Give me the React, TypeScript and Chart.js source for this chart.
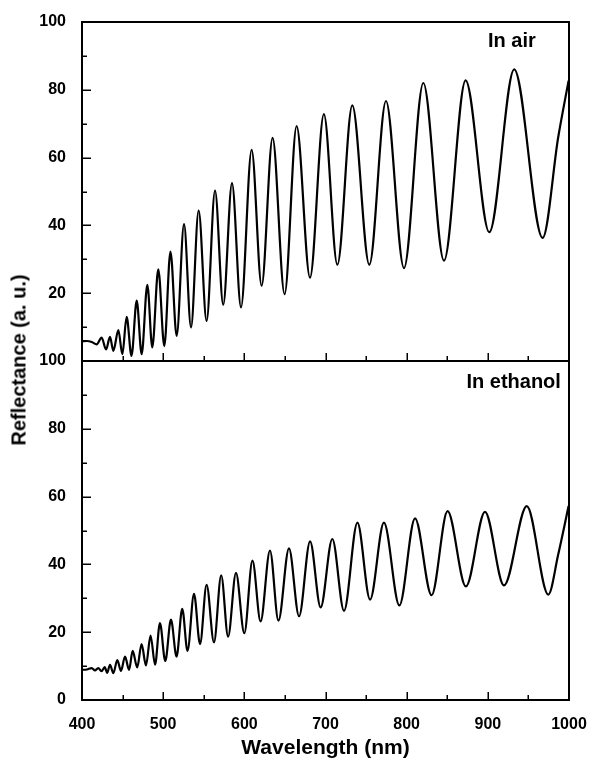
import React, { useEffect, useRef } from 'react';
import { Chart, registerables } from 'chart.js';

Chart.register(...registerables);

// ---- Data (wavelength in nm, reflectance in a.u.) ----
const airWavelength = [
  400, 406, 412, 418, 424.2, 429.6, 434.5, 438.6, 444.8, 449.7, 455, 461, 467.4, 473.5, 480.5, 486.6,
  494, 501.4, 509, 516.6, 525.7, 534.3, 543.7, 553.5, 563.9, 574, 584.8, 595.9, 609, 621.3, 634.8,
  649.6, 664.4, 680.9, 698, 714.6, 733, 754, 774.5, 796.7, 820.5, 846, 872.6, 901.8, 932.5, 967.5,
  986.7, 999.5,
];
const airReflectance = [
  5.8, 5.9, 5.6, 4.9, 6.9, 3.4, 7.1, 3.0, 9.1, 2.0, 13, 1.5, 17.8, 2.0, 22.5, 4.0,
  27, 4.4, 32.3, 7.4, 40.4, 9.9, 44.4, 11.8, 50.3, 16.6, 52.5, 15.8, 62.3, 22.2, 65.8,
  19.7, 69.3, 24.6, 72.8, 28.4, 75.4, 28.4, 76.7, 27.4, 82, 29.6, 82.8, 38, 86, 36.3,
  66, 82.7,
];

const ethanolWavelength = [
  400, 406, 412, 416, 420, 424, 428, 431, 434.5, 438.6, 443.5, 448, 453, 458, 462.4, 468,
  473.4, 478.8, 484.5, 490, 496, 502.6, 509.6, 516.5, 523.5, 530, 538, 545.4, 553.5, 562.6,
  571.5, 580, 589.7, 600, 610, 620, 631.6, 642, 655, 667.4, 681, 694, 708.4, 722.8, 739.3,
  754.9, 772, 791, 810.3, 830.7, 850.4, 873, 896.5, 919.9, 948, 974.5, 986.7, 999.5,
];
const ethanolReflectance = [
  8.9, 9.0, 9.4, 8.7, 9.4, 8.5, 9.7, 8.0, 10.4, 7.9, 11.8, 8.6, 12.8, 8.9, 14.5, 9.6,
  16.5, 10.2, 19, 10.4, 22.7, 11.5, 23.7, 12.8, 26.9, 14.5, 31.3, 16.5, 34, 17,
  36.8, 18.7, 37.5, 19.7, 41.1, 23.2, 44.1, 23.4, 44.7, 24.7, 46.8, 27.3, 47.5, 26.3, 52.3,
  29.6, 52.3, 27.9, 53.6, 30.9, 55.7, 33.5, 55.5, 33.8, 57.2, 31.1, 42.9, 57.2,
];

const xMajorTicks = [400, 500, 600, 700, 800, 900, 1000];
const xMinorTicks = [450, 550, 650, 750, 850, 950];
const yMajorTicks = [0, 20, 40, 60, 80, 100];
const yMinorTicks = [10, 30, 50, 70, 90];
const panelLabels = ['In air', 'In ethanol'];
const xTitle = 'Wavelength (nm)';
const yTitle = 'Reflectance (a. u.)';

const FONT = '"Liberation Sans", Arial, Helvetica, sans-serif';

const framePlugin = {
  id: 'frame',
  afterDatasetsDraw(chart: any, _args: any, opts: any) {
    const { ctx, chartArea: a } = chart;
    const x = chart.scales.x;
    const y = chart.scales.y;
    ctx.save();
    ctx.strokeStyle = '#000';
    ctx.lineWidth = 2;
    ctx.lineCap = 'square';
    ctx.beginPath();
    ctx.moveTo(a.left, a.top);
    ctx.lineTo(a.left, a.bottom);
    ctx.lineTo(a.right, a.bottom);
    ctx.lineTo(a.right, a.top);
    if (opts.closeTop) ctx.lineTo(a.left, a.top);
    ctx.stroke();

    ctx.lineWidth = 1.5;
    ctx.lineCap = 'butt';
    const yTick = (v: number, len: number) => {
      const py = Math.round(y.getPixelForValue(v)) + 0.25;
      ctx.beginPath();
      ctx.moveTo(a.left, py);
      ctx.lineTo(a.left + len, py);
      ctx.stroke();
    };
    const xTick = (v: number, len: number) => {
      const px = Math.round(x.getPixelForValue(v)) + 0.25;
      ctx.beginPath();
      ctx.moveTo(px, a.bottom);
      ctx.lineTo(px, a.bottom - len);
      ctx.stroke();
    };
    yMajorTicks.forEach((v) => yTick(v, 9));
    yMinorTicks.forEach((v) => yTick(v, 5));
    xMajorTicks.forEach((v) => xTick(v, 8));
    xMinorTicks.forEach((v) => xTick(v, 5));

    ctx.font = `bold 20px ${FONT}`;
    ctx.fillStyle = '#000';
    ctx.textAlign = 'right';
    ctx.textBaseline = 'middle';
    ctx.fillText(opts.label, x.getPixelForValue(opts.labelX), y.getPixelForValue(opts.labelY));
    ctx.restore();
  },
};

function makeConfig(xs: number[], ys: number[], isTop: boolean, label: string, labelX: number, labelY: number): any {
  const tickFont = { family: FONT, size: 16, weight: 'bold' as const };
  const xScale: any = {
    type: 'linear',
    min: 400,
    max: 1000,
    display: !isTop,
    grid: { display: false },
    border: { display: false },
    afterBuildTicks: (s: any) => {
      s.ticks = xMajorTicks.map((v) => ({ value: v }));
    },
    ticks: {
      color: '#000',
      font: tickFont,
      padding: 7,
      maxRotation: 0,
      autoSkip: false,
      callback: (v: any) => String(v),
    },
    title: {
      display: true,
      text: xTitle,
      color: '#000',
      font: { family: FONT, size: 21, weight: 'bold', lineHeight: 1 },
      padding: { top: 0, bottom: 0 },
    },
  };
  if (!isTop) {
    xScale.afterFit = (s: any) => {
      s.height = 59;
      s.paddingLeft = 0;
      s.paddingRight = 0;
    };
  }
  return {
    type: 'line',
    data: {
      datasets: [
        {
          data: xs.map((x, i) => ({ x, y: ys[i] })),
          borderColor: '#000',
          borderWidth: 2.2,
          pointRadius: 0,
          fill: false,
          cubicInterpolationMode: 'monotone',
        },
      ],
    },
    options: {
      responsive: false,
      maintainAspectRatio: false,
      animation: false,
      events: [],
      layout: {
        padding: isTop
          ? { left: 0, right: 21, top: 22, bottom: 1 }
          : { left: 0, right: 21, top: 31, bottom: 0 },
      },
      plugins: {
        legend: { display: false },
        tooltip: { enabled: false },
        frame: { closeTop: isTop, label, labelX, labelY },
      },
      scales: {
        x: xScale,
        y: {
          type: 'linear',
          min: 0,
          max: 100,
          grid: { display: false },
          border: { display: false },
          afterBuildTicks: (s: any) => {
            s.ticks = yMajorTicks.map((v) => ({ value: v }));
          },
          ticks: {
            color: '#000',
            font: tickFont,
            padding: 8,
            callback: (v: any) => (isTop && v === 0 ? '' : String(v)),
          },
          afterFit: (s: any) => {
            s.width = 82;
            s.paddingTop = 0;
            s.paddingBottom = 0;
          },
        },
      },
    },
    plugins: [framePlugin],
  };
}

export default function App() {
  const topRef = useRef<HTMLCanvasElement | null>(null);
  const bottomRef = useRef<HTMLCanvasElement | null>(null);

  useEffect(() => {
    const charts: Chart[] = [];
    if (topRef.current) {
      charts.push(new Chart(topRef.current, makeConfig(airWavelength, airReflectance, true, panelLabels[0], 959, 94.2)));
    }
    if (bottomRef.current) {
      charts.push(
        new Chart(bottomRef.current, makeConfig(ethanolWavelength, ethanolReflectance, false, panelLabels[1], 990, 93.8))
      );
    }
    return () => charts.forEach((c) => c.destroy());
  }, []);

  return (
    <div style={{ position: 'absolute', left: 0, top: 0, width: 590, height: 759, background: '#fff', overflow: 'hidden' }}>
      <canvas
        ref={topRef}
        width={590}
        height={362}
        style={{ position: 'absolute', left: 0, top: 0, width: 590, height: 362, display: 'block' }}
      />
      <canvas
        ref={bottomRef}
        width={590}
        height={429}
        style={{ position: 'absolute', left: 0, top: 330, width: 590, height: 429, display: 'block' }}
      />
      <div
        style={{
          position: 'absolute',
          left: 19,
          top: 360,
          transform: 'translate(-50%, -50%) rotate(-90deg)',
          font: `bold 20px ${FONT}`,
          whiteSpace: 'nowrap',
          color: '#000',
        }}
      >
        {yTitle}
      </div>
    </div>
  );
}
